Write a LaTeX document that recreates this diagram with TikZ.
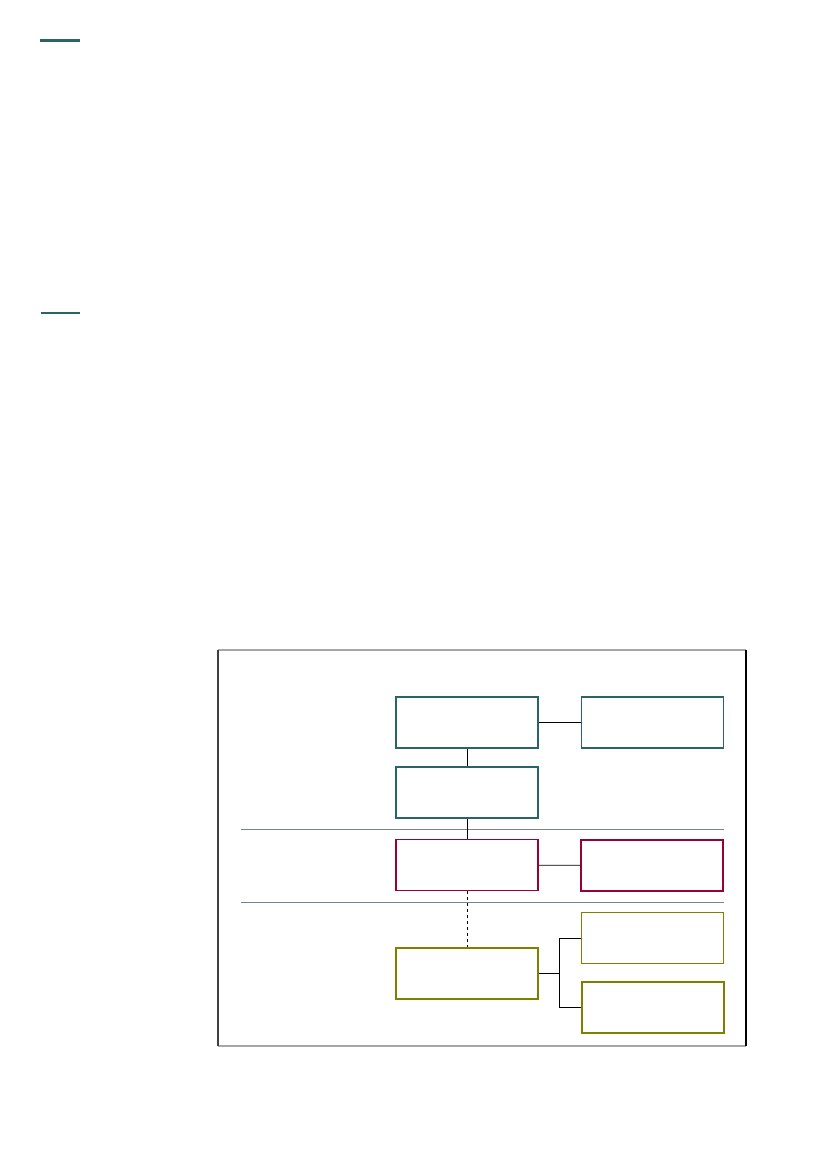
\documentclass[tikz,border=0pt]{standalone}
\usepackage{tikz}
\usetikzlibrary{arrows.meta,arrows}
\usetikzlibrary{positioning}

\definecolor{tealbox}{HTML}{2A6469}
\definecolor{redbox}{HTML}{990033}
\definecolor{olivebox}{HTML}{808000}
\definecolor{rulegray}{HTML}{7A8490}

\begin{document}
\begin{tikzpicture}[x=1pt, y=-1pt]
                \useasboundingbox (0,0) rectangle (827,1169);

                % marks at the top left
                \draw[tealbox, line width=3pt] (40,41) -- (80,41);
                \draw[tealbox, line width=2pt] (41,313) -- (80,313);

                % frame
                \draw[gray!70, line width=1.2pt] (218,650) -- (746,650);
                \draw[gray!70, line width=1.2pt] (218,1046) -- (746,1046);
                \draw[black!75, line width=1.2pt] (218,650) -- (218,1046);
                \draw[black, line width=1.2pt] (746,650) -- (746,1046);

                % separators
                \draw[rulegray, line width=0.8pt] (241,829) -- (724,829);
                \draw[rulegray, line width=0.8pt] (241,902) -- (724,902);

                \begin{scope}[every node/.style={rectangle, draw, line width=1.5pt,
                        minimum width=142pt, minimum height=51pt, inner sep=0pt}]
                    \node[tealbox] (top) at (467,722.5) {};
                    \node[tealbox] (side) at (652.5,722.5) {};
                    \node[tealbox] (mid) at (467,792.5) {};
                    \node[redbox] (red) at (467,865) {};
                    \node[redbox] (redside) at (652,865.5) {};
                    \node[olivebox] (low) at (467,973.5) {};
                    \node[olivebox] (upper) at (652.5,938) {};
                    \node[olivebox] (lower) at (653,1007.5) {};
                \end{scope}

                \begin{scope}[line width=0.8pt]
                    \path (top) edge (side);
                    \path (top) edge (mid);
                    \path (mid) edge (red);
                    \path (red) edge (redside);
                    \path (red) edge[dashed] (low);
                    \draw (low.east) -- ++(21,0) |- (upper.west);
                    \draw (low.east) -- ++(21,0) |- (lower.west);
                \end{scope}
            \end{tikzpicture}
\end{document}
